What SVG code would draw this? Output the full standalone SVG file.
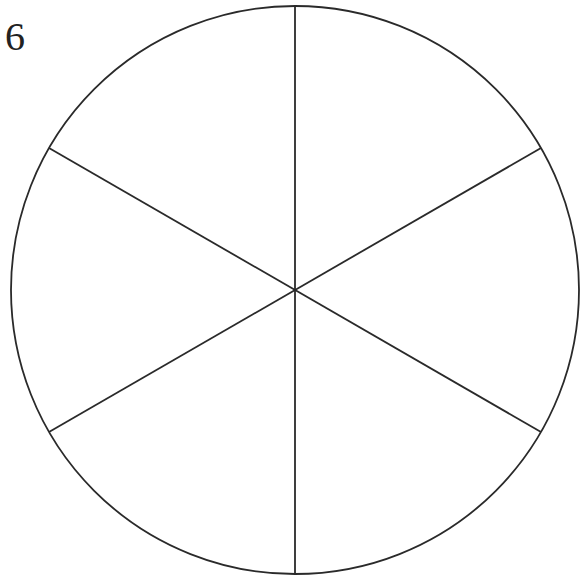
<svg xmlns="http://www.w3.org/2000/svg" width="582" height="581" viewBox="0 0 582 581">
<style>
.ln{stroke:#2a2a2a;stroke-width:1.8;fill:none}
.lbl{font-family:"Liberation Serif",serif;font-size:40px;fill:#222}
</style>
<rect width="582" height="581" fill="#fff"/>
<g id="circle"><circle class="ln" cx="295" cy="290" r="284"/></g>
<g id="connectors">
<line class="ln" x1="295" y1="6" x2="295" y2="574"/>
<line class="ln" x1="49" y1="148" x2="541" y2="432"/>
<line class="ln" x1="49" y1="432" x2="541" y2="148"/>
</g>
<g id="label"><text class="lbl" x="5" y="50">6</text></g>
</svg>
